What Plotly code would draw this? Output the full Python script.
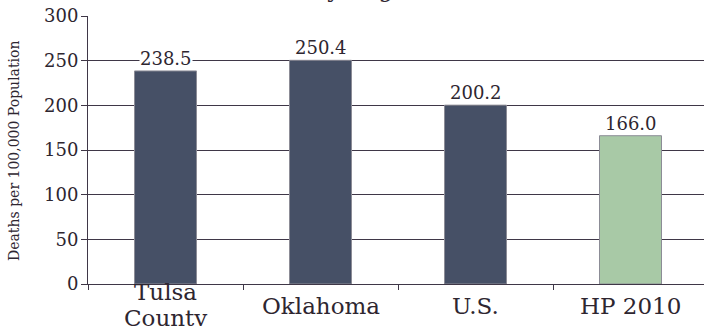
import plotly.graph_objects as go

categories = ["Tulsa County", "Oklahoma", "U.S.", "HP 2010"]
category_labels = ["Tulsa<br>County", "Oklahoma", "U.S.", "HP 2010"]
values = [238.5, 250.4, 200.2, 166.0]
value_labels = ["238.5", "250.4", "200.2", "166.0"]
bar_colors = ["#465066", "#465066", "#465066", "#a8c9a6"]
y_ticks = [0, 50, 100, 150, 200, 250, 300]
title_text = "Rates by Region, 2004-2006"
y_title = "Deaths per 100,000 Population"

FONT = "DejaVu Serif"
INK = "#2e2630"
LINE = "#3f3747"

W, H = 704, 326
PLOT_L, PLOT_T, PLOT_B = 88, 16, 284
PLOT_H = PLOT_B - PLOT_T
CAT_PX = 155
plot_w = W - PLOT_L
x_max = -0.5 + plot_w / CAT_PX

def py(win_y):
    return (PLOT_B - win_y) / PLOT_H

def px(win_x):
    return (win_x - PLOT_L) / plot_w

fig = go.Figure()
fig.add_trace(go.Bar(
    x=categories, y=values, width=0.4,
    marker=dict(color=bar_colors, line=dict(color="#8c8c96", width=1)),
    hoverinfo="skip",
))

for c, v, t in zip(categories, values, value_labels):
    fig.add_annotation(x=c, y=v, xref="x", yref="y", text=t, showarrow=False,
                       yanchor="bottom", yshift=1, bgcolor="white", borderpad=0,
                       font=dict(family=FONT, size=18, color=INK))

for c, t in zip(categories, category_labels):
    lines = t.split("<br>")
    centers = [306] if len(lines) == 1 else [292, 318]
    for ln, cy in zip(lines, centers):
        fig.add_annotation(x=c, y=py(cy), xref="x", yref="paper", text=ln, showarrow=False,
                           yanchor="middle", font=dict(family=FONT, size=23, color=INK))

fig.add_annotation(x=px(404), y=1.043, xref="paper", yref="paper",
                   text=title_text, showarrow=False, yanchor="bottom",
                   font=dict(family=FONT, size=23, color=INK))

fig.add_annotation(x=px(14), y=py(151), xref="paper", yref="paper", text=y_title,
                   textangle=-90, showarrow=False, xanchor="center", yanchor="middle",
                   font=dict(family=FONT, size=14, color=INK))

fig.update_layout(
    width=W, height=H,
    margin=dict(l=PLOT_L, r=0, t=PLOT_T, b=H - PLOT_B, autoexpand=False),
    paper_bgcolor="white", plot_bgcolor="white",
    showlegend=False,
    xaxis=dict(
        type="category", range=[-0.5, x_max], automargin=False,
        showticklabels=False, tickson="boundaries", ticks="outside", ticklen=5,
        tickcolor=LINE, showgrid=False, showline=True, linecolor=LINE, linewidth=1,
        zeroline=False, fixedrange=True,
    ),
    yaxis=dict(
        range=[0, 300], tickvals=y_ticks, ticks="outside", ticklen=6, tickcolor=LINE,
        automargin=False, ticklabeloverflow="allow", ticklabelstandoff=-1,
        showgrid=True, gridcolor=LINE, gridwidth=1, showline=True, linecolor=LINE,
        linewidth=1, zeroline=False, fixedrange=True,
        tickfont=dict(family=FONT, size=18, color=INK),
    ),
)

fig.write_html("out.html", config={"displayModeBar": False},
               post_script="document.body.style.margin='0';")
